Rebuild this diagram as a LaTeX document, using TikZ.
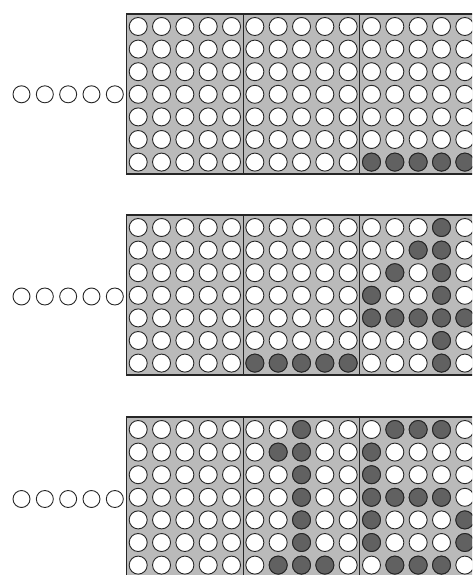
\documentclass[tikz,border=0pt]{standalone}
\usepackage{tikz}
\usetikzlibrary{calc}

\colorlet{board}{black!27}
\colorlet{ink}{black!85}

\begin{document}
\begin{tikzpicture}[x=1pt, y=-1pt,
    hole/.style={draw=ink, line width=0.9pt, fill=white},
    lit/.style={draw=ink, line width=0.9pt, fill=black!62},
    frame/.style={draw=ink, line width=1.8pt, fill=board},
    divider/.style={draw=ink, line width=0.7pt}]
    \useasboundingbox (0,0) rectangle (472,575);
    \clip (0,0) rectangle (472,575);

    % Panel 1 - last row of third block lit
    \begin{scope}[shift={(0,14)}]
    \draw[frame] (126.5,0) rectangle (480,159.6);
    \draw[divider] (243.2,0) -- (243.2,159.6) (359.8,0) -- (359.8,159.6);
    \foreach \c in {1,...,15} \foreach \r in {1,...,7}
        \draw[hole] ({114.87+\c*23.33},{12.5+(\r-1)*22.6}) circle (9pt);
    \foreach \c/\r in {11/7,12/7,13/7,14/7,15/7}
        \draw[lit] ({114.87+\c*23.33},{12.5+(\r-1)*22.6}) circle (9pt);
    \foreach \c in {1,...,5}
        \draw[hole] ({-1.83+\c*23.33},80.3) circle (8.5pt);
    \end{scope}

    % Panel 2 - last row of second block, digit 4 in third block
    \begin{scope}[shift={(0,215)}]
    \draw[frame] (126.5,0) rectangle (480,159.6);
    \draw[divider] (243.2,0) -- (243.2,159.6) (359.8,0) -- (359.8,159.6);
    \foreach \c in {1,...,15} \foreach \r in {1,...,7}
        \draw[hole] ({114.87+\c*23.33},{12.5+(\r-1)*22.6}) circle (9pt);
    \foreach \c/\r in {6/7,7/7,8/7,9/7,10/7,
                       14/1,13/2,14/2,12/3,14/3,11/4,14/4,
                       11/5,12/5,13/5,14/5,15/5,14/6,14/7}
        \draw[lit] ({114.87+\c*23.33},{12.5+(\r-1)*22.6}) circle (9pt);
    \foreach \c in {1,...,5}
        \draw[hole] ({-1.83+\c*23.33},81.5) circle (8.5pt);
    \end{scope}

    % Panel 3 - digit 1 in second block, digit 6 in third block
    \begin{scope}[shift={(0,417)}]
    \draw[frame] (126.5,0) rectangle (480,159.6);
    \draw[divider] (243.2,0) -- (243.2,159.6) (359.8,0) -- (359.8,159.6);
    \foreach \c in {1,...,15} \foreach \r in {1,...,7}
        \draw[hole] ({114.87+\c*23.33},{12.5+(\r-1)*22.6}) circle (9pt);
    \foreach \c/\r in {8/1,7/2,8/2,8/3,8/4,8/5,8/6,7/7,8/7,9/7,
                       12/1,13/1,14/1,11/2,11/3,11/4,12/4,13/4,14/4,
                       11/5,15/5,11/6,15/6,12/7,13/7,14/7}
        \draw[lit] ({114.87+\c*23.33},{12.5+(\r-1)*22.6}) circle (9pt);
    \foreach \c in {1,...,5}
        \draw[hole] ({-1.83+\c*23.33},82) circle (8.5pt);
    \end{scope}
\end{tikzpicture}
\end{document}
